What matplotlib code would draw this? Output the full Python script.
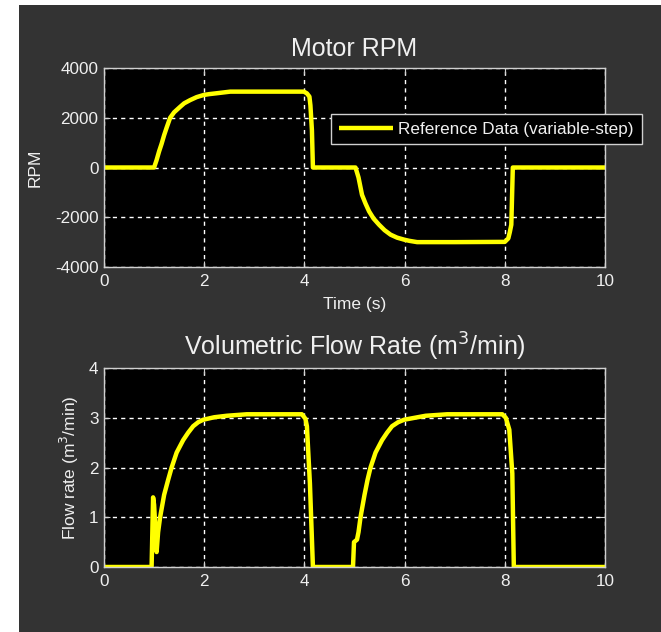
import matplotlib
matplotlib.use("Agg")
import matplotlib.pyplot as plt
from matplotlib.patches import Rectangle

# ---- data ----
t_rpm = [0, 1.0, 1.05, 1.1, 1.15, 1.2, 1.25, 1.32, 1.4, 1.52, 1.6, 1.72, 1.85,
         1.99, 2.1, 2.25, 2.52, 3.0, 3.99, 4.05, 4.1, 4.12, 4.15, 4.17,
         5.02, 5.08, 5.15, 5.22, 5.29, 5.38, 5.49, 5.6, 5.72, 5.85, 5.99, 6.1, 6.25,
         7.0, 8.0, 8.07, 8.1, 8.13, 8.16, 10]
rpm = [0, 0, 300, 650, 955, 1300, 1600, 2000, 2220, 2440, 2580, 2710, 2830,
       2915, 2950, 2985, 3050, 3050, 3050, 2980, 2850, 2500, 1500, 0,
       0, -400, -1100, -1450, -1760, -2050, -2300, -2520, -2700, -2820, -2900, -2950, -3000,
       -3000, -2990, -2850, -2600, -2300, 0, 0]

t_flow = [0, 0.95, 0.98, 1.0, 1.05, 1.08, 1.12, 1.2, 1.28, 1.35, 1.45, 1.58, 1.68,
          1.78, 1.88, 1.98, 2.2, 2.45, 2.85, 3.95, 4.02, 4.05, 4.11, 4.17,
          4.97, 4.99, 5.05, 5.08, 5.12, 5.2, 5.26, 5.32, 5.42, 5.55, 5.65, 5.75, 5.87,
          5.99, 6.42, 6.85, 7.95, 8.02, 8.09, 8.15, 8.18, 10]
flow = [0, 0, 1.4, 1.25, 0.3, 0.7, 1.0, 1.45, 1.75, 2.0, 2.3, 2.55, 2.7,
        2.83, 2.91, 2.96, 3.01, 3.04, 3.07, 3.07, 2.98, 2.83, 1.68, 0,
        0, 0.5, 0.55, 0.7, 1.0, 1.45, 1.75, 2.0, 2.3, 2.55, 2.7, 2.83, 2.91,
        2.96, 3.04, 3.07, 3.07, 3.0, 2.76, 1.88, 0, 0]

x_ticks = [0, 2, 4, 6, 8, 10]
rpm_ticks = [-4000, -2000, 0, 2000, 4000]
flow_ticks = [0, 1, 2, 3, 4]

legend_label = "Reference Data (variable-step)"

# ---- style ----
plt.rcParams['font.family'] = ['Liberation Sans', 'DejaVu Sans']
plt.rcParams['axes.unicode_minus'] = False
txt = '#f0f0f0'
yellow = '#ffff00'
panel = '#333333'

fig = plt.figure(figsize=(6.61, 6.32), dpi=100)
fig.patch.set_facecolor('white')
bg = Rectangle((19 / 661, 0), 1 - 19 / 661, 1 - 5 / 632,
               transform=fig.transFigure, facecolor=panel,
               edgecolor='none', zorder=-10)
fig.add_artist(bg)

ax1 = fig.add_axes([104 / 661, 1 - 267 / 632, 501 / 661, 199 / 632])
ax2 = fig.add_axes([104 / 661, 1 - 567 / 632, 501 / 661, 199 / 632])


def style(ax):
    ax.set_facecolor('black')
    for s in ax.spines.values():
        s.set_color('#d0d0d0')
        s.set_linewidth(1)
    ax.tick_params(direction='in', colors='#d0d0d0', labelcolor=txt,
                   labelsize=12.3, top=True, right=True, length=4)
    ax.tick_params(axis='x', pad=5)
    ax.tick_params(axis='y', pad=4)
    ax.grid(True, color='white', linestyle=(0, (3, 3)), linewidth=1)
    ax.set_axisbelow(True)


ax1.plot(t_rpm, rpm, color=yellow, lw=3.2, label=legend_label,
         solid_joinstyle='round', solid_capstyle='butt')
ax1.set_xlim(0, 10)
ax1.set_ylim(-4000, 4000)
ax1.set_xticks(x_ticks)
ax1.set_yticks(rpm_ticks)
style(ax1)
ax1.set_title('Motor RPM', color=txt, fontsize=18, pad=9)
ax1.set_xlabel('Time (s)', color=txt, fontsize=12.5, labelpad=6)
ax1.set_ylabel('RPM', color=txt, fontsize=12.5, labelpad=9)
leg = ax1.legend(loc='upper left', bbox_to_anchor=(0.453, 0.769), borderaxespad=0,
                 fontsize=12.3, handlelength=3.2, handletextpad=0.3,
                 fancybox=False, framealpha=1, borderpad=0.45)
leg.get_frame().set_facecolor('black')
leg.get_frame().set_edgecolor('#d0d0d0')
for t in leg.get_texts():
    t.set_color(txt)

ax2.plot(t_flow, flow, color=yellow, lw=3.2, solid_joinstyle='round')
ax2.set_xlim(0, 10)
ax2.set_ylim(0, 4)
ax2.set_xticks(x_ticks)
ax2.set_yticks(flow_ticks)
style(ax2)
ax2.set_title('Volumetric Flow Rate (m$^3$/min)', color=txt, fontsize=18, pad=9)
ax2.set_ylabel('Flow rate (m$^3$/min)', color=txt, fontsize=12.5, labelpad=6)

fig.savefig('out.png', dpi=100, facecolor=fig.get_facecolor())
